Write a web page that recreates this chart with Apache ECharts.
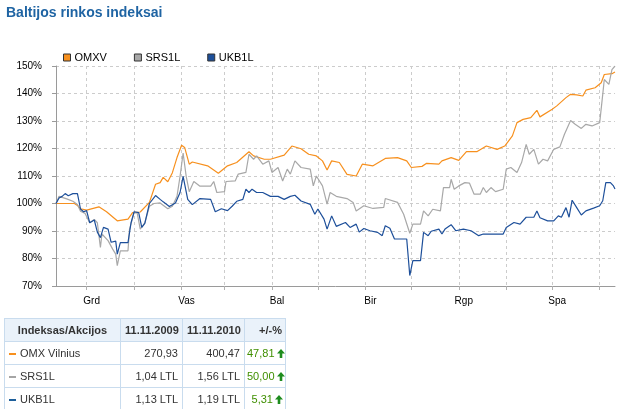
<!DOCTYPE html>
<html>
<head>
<meta charset="utf-8">
<script src="https://cdn.jsdelivr.net/npm/echarts@6/dist/echarts.min.js"></script>
<style>
  html, body { margin: 0; padding: 0; background: #fff; }
  #chart { position: absolute; left: 0; top: 0; width: 619px; height: 409px; }
  #tbl {
    position: absolute; left: 4px; top: 318px; width: 281px;
    border-collapse: collapse; table-layout: fixed;
    font-family: "Liberation Sans", Arial, sans-serif; font-size: 11px; color: #333;
  }
  #tbl td, #tbl th { border: 1px solid #c9dcee; padding: 0 4px; height: 22px; white-space: nowrap; }
  #tbl th { background: #eaf2fa; font-weight: bold; text-align: center; }
  #tbl td.num { text-align: right; }
  #tbl td.chg { text-align: right; color: #3f8f00; padding: 0 2px; }
  #tbl th.chg { text-align: right; padding: 0 3px; }
  .mark { display: inline-block; width: 7px; height: 2px; vertical-align: middle; margin: 0 4px 0 0; }
</style>
</head>
<body>
<div id="chart"></div>
<table id="tbl">
  <colgroup><col style="width:116px"><col style="width:62px"><col style="width:62px"><col style="width:41px"></colgroup>
  <tr>
    <th>Indeksas/Akcijos</th>
    <th>11.11.2009</th>
    <th>11.11.2010</th>
    <th class="chg">+/-%</th>
  </tr>
  <tbody id="rows"></tbody>
</table>
<script>
// dienos nuo 2009-11-11, reiksme % (pradzia = 100)
var omxv = [[0,100],[12,100],[14,99.3],[16,98.1],[20,97.6],[28,98.8],[33,97],[40,93.7],[47,94.3],
  [50,96.7],[55,96.9],[61,100.4],[65,107],[68,107.6],[70,109.5],[73,107.9],[76,111.2],[79,116.7],
  [82,121.2],[84,120.4],[87,114.3],[89,115.1],[99,113.7],[106,111],[112,113.7],[118,114.9],
  [126,118.8],[129,117.3],[136,116.1],[140,116.1],[149,117.6],[154,120.9],[160,119.9],[165,117.9],
  [170,117.3],[174,115.5],[177,112.2],[180,115.5],[185,114.9],[190,110.6],[196,110],[200,114.3],
  [207,113.7],[215,116.4],[223,116.7],[229,115.5],[232,113.1],[239,113.5],[242,114.6],[250,114.3],
  [252,115.5],[258,116.7],[263,115.7],[268,118.9],[275,118.9],[281,120.9],[288,119.7],[293,120.9],
  [298,124.6],[301,129.4],[305,130.6],[310,131.2],[314,133.9],[316,131.5],[324,134.3],[327,135.5],
  [333,138.5],[336,139.7],[340,139.5],[344,139.1],[346,141.2],[352,142.1],[356,143.9],[358,146.9],
  [363,147.2],[365,147.8]];

var srs1l = [[0,100],[2,102.6],[7,101.7],[11,100.8],[14,99.6],[16,97.2],[19,96.4],[22,93],[25,94.2],
  [27,93],[29,84],[30,88.9],[34,86.5],[37,83.4],[39,81.6],[40,77.4],[42,82.8],[47,82.8],[48,90.7],
  [51,96.7],[53,96.6],[55,90.7],[58,93],[61,99],[64,100],[68,100.2],[73,98.1],[76,99],[79,102.6],
  [81,109.9],[83,118.3],[85,109.9],[87,104.3],[90,108],[94,106.3],[101,106.3],[103,108],[105,104],
  [110,104.3],[111,108],[117,108.2],[119,110.7],[124,111.3],[126,117.9],[129,116.1],[131,117.3],
  [135,114.3],[139,115.5],[141,111.3],[145,113.1],[148,108.2],[151,112.5],[153,110.7],[156,115.5],
  [160,113.1],[166,112.5],[168,106.4],[170,110],[174,106.4],[177,99.8],[179,104],[183,102.6],
  [190,101.8],[194,100.4],[196,97.3],[201,99.2],[207,98.2],[214,98.6],[215,101.8],[223,100.4],
  [227,96.1],[231,89.2],[233,92.5],[238,92.5],[240,97.3],[243,95.5],[246,97.9],[251,97.3],
  [253,105.8],[257,105.8],[258,108.8],[260,105.2],[263,106.4],[267,107.6],[270,107.4],[273,103.4],
  [277,103.4],[279,105.8],[281,104],[284,105.8],[287,104.3],[292,105.2],[294,112.5],[297,113.1],
  [301,111.3],[304,114.9],[307,121.5],[309,117.9],[312,119.7],[315,114.3],[318,116.1],[321,115.5],
  [325,119.7],[329,120.6],[332,125.2],[336,130.2],[339,128.8],[343,127.3],[346,128.8],[350,128.2],
  [355,129.4],[357,139.7],[358,145.1],[361,143.3],[363,148.7],[365,150]];

var ukb1l = [[0,100],[2,102],[4,102.6],[6,103.6],[8,102.8],[11,103.6],[14,103.6],[16,98],[18,97],
  [20,97.4],[22,93],[25,94],[27,89.6],[29,87.6],[31,91.3],[34,90.7],[36,85.9],[39,86.3],[40,81.6],
  [42,85.8],[47,85.8],[49,93],[51,97],[54,96.7],[56,91.3],[58,92.8],[61,100],[65,102.9],[68,101.5],
  [70,100.6],[74,98.9],[78,100.2],[81,104],[83,109.9],[86,101.5],[89,99.6],[94,101.8],[101,101.5],
  [104,97],[108,98.1],[112,97.4],[115,99],[118,100.8],[122,101.5],[124,105.2],[126,104],[128,105.2],
  [131,104],[135,104],[140,102.6],[145,102.6],[149,101.5],[153,102.6],[156,103],[160,100.9],
  [166,99.7],[169,96.1],[171,98],[175,94.3],[177,90.7],[180,95.5],[183,91.7],[189,93.1],[192,91.3],
  [196,92.5],[198,89.6],[201,90.9],[205,90.1],[210,89.5],[213,88.3],[215,91.9],[218,91],[221,87.1],
  [229,87.1],[231,73.8],[233,79.2],[238,79.2],[240,89.5],[243,88.3],[245,89.9],[250,90.7],[252,88.9],
  [254,90.7],[258,92.3],[261,90.1],[266,90.7],[271,90.1],[276,88.3],[279,88.9],[292,88.9],[294,91.3],
  [299,93.1],[303,92.5],[307,95],[312,95],[314,97.3],[316,94.8],[321,93.7],[325,93.7],[328,95.5],
  [330,95],[333,98.5],[335,95],[337,101.2],[340,98.5],[343,95.8],[346,97.3],[351,98.3],[355,99.2],
  [357,101],[359,107.6],[362,107.6],[364,106.4],[365,105.3]];

var seriesNames = ['OMXV', 'SRS1L', 'UKB1L'];
var seriesColors = ['#f7901e', '#a8a8a8', '#1d4f9a'];

var monthTicks = ['2009-12-01','2010-01-01','2010-02-01','2010-03-01','2010-04-01','2010-05-01',
  '2010-06-01','2010-07-01','2010-08-01','2010-09-01','2010-10-01','2010-11-01'];
var monthLabels = ['Grd','','Vas','','Bal','','Bir','','Rgp','','Spa',''];

// lentele
var tblNames = ['OMX Vilnius', 'SRS1L', 'UKB1L'];
var tblStart = ['270,93', '1,04 LTL', '1,13 LTL'];
var tblEnd = ['400,47', '1,56 LTL', '1,19 LTL'];
var tblChange = ['47,81', '50,00', '5,31'];
var tblMarkColors = ['#f7901e', '#a5a5a5', '#1d5f9a'];

var startDate = new Date(2009, 10, 11).getTime();
var DAY = 86400000;
// menesio pradzia -> diena nuo pradzios
function dayOf(s) {
  var a = s.split('-');
  return Math.round((new Date(+a[0], +a[1] - 1, +a[2]).getTime() - startDate) / DAY);
}
var tickDays = monthTicks.map(dayOf);

var arrow = '<svg width="8" height="9" viewBox="0 0 8 9" style="vertical-align:-1px;margin-left:2px">' +
  '<path d="M4 0 L8 4.5 L5.3 4.5 L5.3 9 L2.7 9 L2.7 4.5 L0 4.5 Z" fill="#1e8c1e"/></svg>';
var rowsHtml = '';
tblNames.forEach(function (n, i) {
  rowsHtml += '<tr><td><span class="mark" style="background:' + tblMarkColors[i] + '"></span>' + n + '</td>' +
    '<td class="num">' + tblStart[i] + '</td><td class="num">' + tblEnd[i] + '</td>' +
    '<td class="chg">' + tblChange[i] + arrow + '</td></tr>';
});
document.getElementById('rows').innerHTML = rowsHtml;

var myChart = echarts.init(document.getElementById('chart'));
var dataSets = [omxv, srs1l, ukb1l];
var option = {
  animation: false,
  title: {
    text: 'Baltijos rinkos indeksai',
    left: 1,
    top: 1,
    textStyle: { fontFamily: 'Liberation Sans', fontSize: 14, fontWeight: 'bold', color: '#1f64a3' }
  },
  legend: {
    left: 58,
    top: 47,
    itemWidth: 7,
    itemHeight: 7,
    itemGap: 27,
    icon: 'rect',
    textStyle: { fontFamily: 'Liberation Sans', fontSize: 11, color: '#000', padding: [0, 0, 0, -1] },
    data: seriesNames.map(function (n, i) {
      return { name: n, itemStyle: { color: seriesColors[i], borderColor: '#333', borderWidth: 1 } };
    })
  },
  grid: { left: 56, right: 4, top: 66, bottom: 123, containLabel: false },
  xAxis: {
    type: 'value',
    min: 0,
    max: 365,
    axisLine: { lineStyle: { color: '#9a9a9a', width: 1 } },
    axisTick: { show: true, length: 4, lineStyle: { color: '#b0b0b0' }, customValues: tickDays },
    splitLine: { show: true, lineStyle: { color: '#cccccc', type: [3, 3] } },
    axisLabel: {
      customValues: tickDays,
      margin: 10,
      padding: [0, 0, 0, 10],
      fontFamily: 'Liberation Sans',
      fontSize: 10,
      color: '#000',
      formatter: function (val) {
        var i = tickDays.indexOf(val);
        return i >= 0 ? monthLabels[i] : '';
      }
    }
  },
  yAxis: {
    type: 'value',
    min: 70,
    max: 150,
    interval: 10,
    axisLine: { show: true, lineStyle: { color: '#9a9a9a' } },
    axisTick: { show: true, length: 4, lineStyle: { color: '#9a9a9a' } },
    splitLine: { show: true, lineStyle: { color: '#cccccc', type: [3, 3] } },
    axisLabel: {
      margin: 14,
      fontFamily: 'Liberation Sans',
      fontSize: 10,
      color: '#000',
      formatter: '{value}%'
    }
  },
  series: dataSets.map(function (d, i) {
    return {
      name: seriesNames[i],
      type: 'line',
      showSymbol: false,
      symbol: 'none',
      color: seriesColors[i],
      lineStyle: { width: 1.2, color: seriesColors[i] },
      data: d
    };
  })
};
myChart.setOption(option);
</script>
</body>
</html>
